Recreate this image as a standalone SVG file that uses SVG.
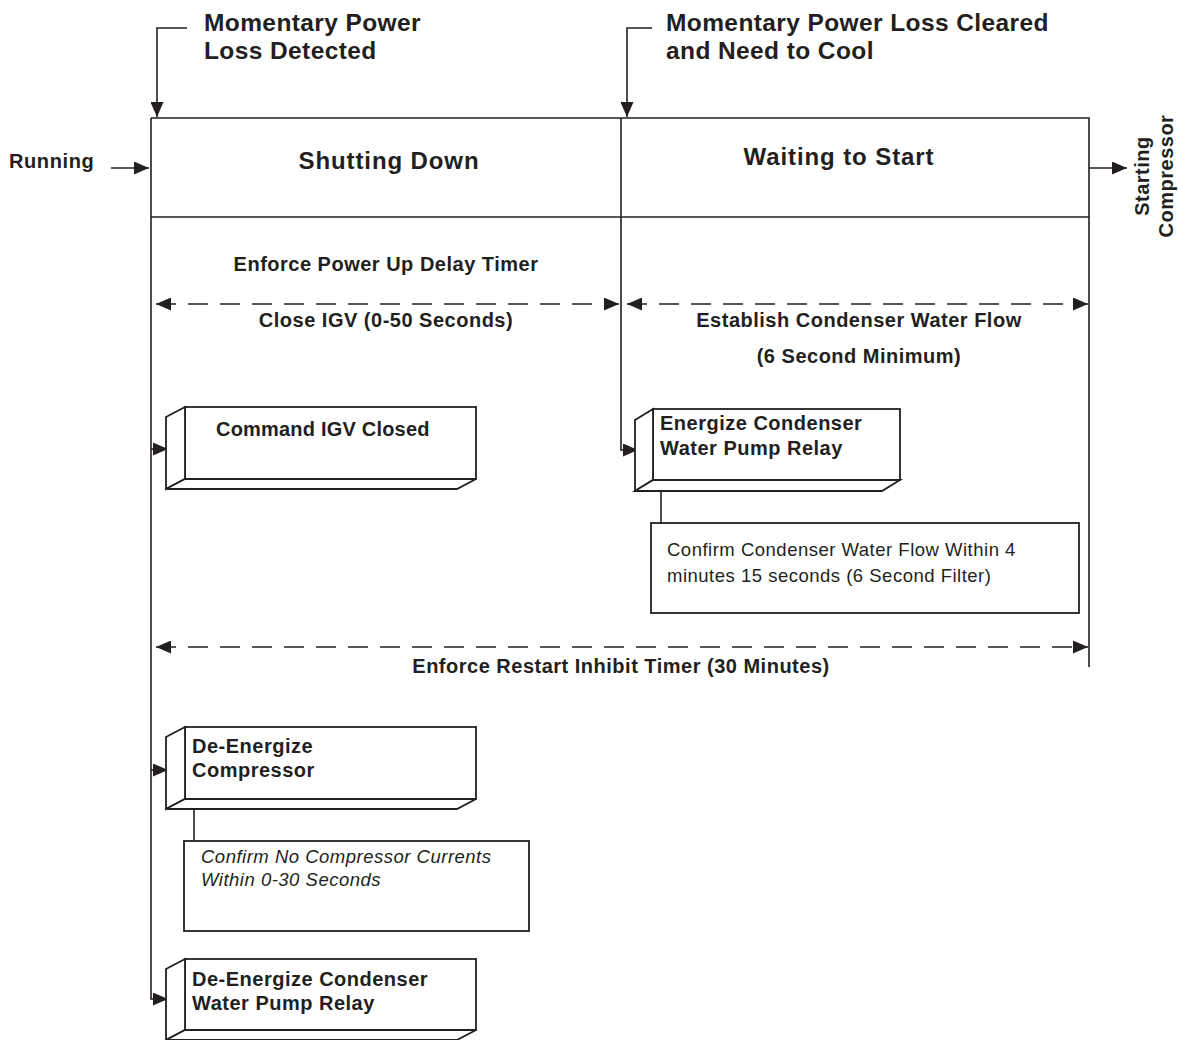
<svg xmlns="http://www.w3.org/2000/svg" width="1178" height="1040" viewBox="0 0 1178 1040">
<style>
text{font-family:"Liberation Sans",Arial,Helvetica,sans-serif;fill:#231f20}
.t{font-size:24.5px;font-weight:bold;letter-spacing:0.4px}
.h{font-size:24px;font-weight:bold;letter-spacing:0.9px}
.b{font-size:20px;font-weight:bold;letter-spacing:0.5px}
.n{font-size:18.5px;letter-spacing:0.5px}
.i{font-size:18.5px;font-style:italic;letter-spacing:0.5px}
.m{text-anchor:middle}
.ln{fill:none;stroke:#231f20;stroke-width:1.6}
.d{fill:none;stroke:#231f20;stroke-width:1.6;stroke-dasharray:20 12}
.bx{fill:#fff;stroke:#231f20;stroke-width:1.8;stroke-linejoin:miter}
</style>
<defs>
<marker id="ah" viewBox="0 0 15 13" refX="15" refY="6.5" markerWidth="15" markerHeight="13" markerUnits="userSpaceOnUse" orient="auto-start-reverse">
<path d="M0,0 L15,6.5 L0,13 z" fill="#231f20"/>
</marker>
</defs>
<rect width="1178" height="1040" fill="#fff"/>

<g id="frame">
<path class="ln" d="M151,118 H1089 V667"/>
<path class="ln" d="M151,217 H1089"/>
</g>

<g id="connectors">
<path class="ln" d="M187,28 H157 V117" marker-end="url(#ah)"/>
<path class="ln" d="M652,28 H627 V117" marker-end="url(#ah)"/>
<path class="ln" d="M111,168 H149" marker-end="url(#ah)"/>
<path class="ln" d="M1089,168 H1127" marker-end="url(#ah)"/>
<path class="ln" d="M151,118 V999 H168" marker-end="url(#ah)"/>
<path class="ln" d="M151,449 H168" marker-end="url(#ah)"/>
<path class="ln" d="M151,770 H168" marker-end="url(#ah)"/>
<path class="ln" d="M621,118 V450 H638" marker-end="url(#ah)"/>
<path class="ln" d="M661,491 V523"/>
<path class="ln" d="M194,809 V841"/>
<path class="d" d="M156,304 H619" marker-start="url(#ah)" marker-end="url(#ah)"/>
<path class="d" d="M627,304 H1088" marker-start="url(#ah)" marker-end="url(#ah)"/>
<path class="d" d="M156,647 H1088" marker-start="url(#ah)" marker-end="url(#ah)"/>
</g>

<g id="labels">
<text class="t" x="204" y="31">Momentary Power</text>
<text class="t" x="204" y="59">Loss Detected</text>
<text class="t" x="666" y="31">Momentary Power Loss Cleared</text>
<text class="t" x="666" y="59">and Need to Cool</text>
<text class="b" x="9" y="168" style="letter-spacing:0.6px">Running</text>
<text class="b m" transform="translate(1149,176) rotate(-90)">Starting</text>
<text class="b m" transform="translate(1173,176) rotate(-90)">Compressor</text>
<text class="b m" x="386" y="271">Enforce Power Up Delay Timer</text>
<text class="b m" x="386" y="327">Close IGV (0-50 Seconds)</text>
<text class="b m" x="859" y="327">Establish Condenser Water Flow</text>
<text class="b m" x="859" y="363">(6 Second Minimum)</text>
<text class="b m" x="621" y="673">Enforce Restart Inhibit Timer (30 Minutes)</text>
</g>

<g id="state-shutting-down">
<text class="h m" x="389" y="169">Shutting Down</text>
</g>
<g id="state-waiting">
<text class="h m" x="839" y="165">Waiting to Start</text>
</g>

<g id="box-command-igv">
<rect class="bx" x="185" y="407" width="291" height="72"/>
<path class="bx" d="M185,407 L166,417 L166,489 L185,479 Z"/>
<path class="bx" d="M166,489 L457,489 L476,479 L185,479 Z"/>
<text class="b" x="216" y="436" style="letter-spacing:0.2px">Command IGV Closed</text>
</g>

<g id="box-energize">
<rect class="bx" x="653" y="409" width="247" height="71"/>
<path class="bx" d="M653,409 L635,420 L635,491 L653,480 Z"/>
<path class="bx" d="M635,491 L882,491 L900,480 L653,480 Z"/>
<text class="b" x="660" y="430">Energize Condenser</text>
<text class="b" x="660" y="455">Water Pump Relay</text>
</g>

<g id="note-condenser-flow">
<rect class="bx" x="651" y="523" width="428" height="90" stroke-width="1.4"/>
<text class="n" x="667" y="556">Confirm Condenser Water Flow Within 4</text>
<text class="n" x="667" y="582">minutes 15 seconds (6 Second Filter)</text>
</g>

<g id="box-deenergize-compressor">
<rect class="bx" x="185" y="727" width="291" height="72"/>
<path class="bx" d="M185,727 L166,737 L166,809 L185,799 Z"/>
<path class="bx" d="M166,809 L457,809 L476,799 L185,799 Z"/>
<text class="b" x="192" y="753">De-Energize</text>
<text class="b" x="192" y="777">Compressor</text>
</g>

<g id="note-compressor-currents">
<rect class="bx" x="184" y="841" width="345" height="90" stroke-width="1.4"/>
<text class="i" x="201" y="863">Confirm No Compressor Currents</text>
<text class="i" x="201" y="886">Within 0-30 Seconds</text>
</g>

<g id="box-deenergize-pump">
<rect class="bx" x="185" y="959" width="291" height="71"/>
<path class="bx" d="M185,959 L166,969 L166,1040 L185,1030 Z"/>
<path class="bx" d="M166,1040 L457,1040 L476,1030 L185,1030 Z"/>
<text class="b" x="192" y="986">De-Energize Condenser</text>
<text class="b" x="192" y="1010">Water Pump Relay</text>
</g>
</svg>
